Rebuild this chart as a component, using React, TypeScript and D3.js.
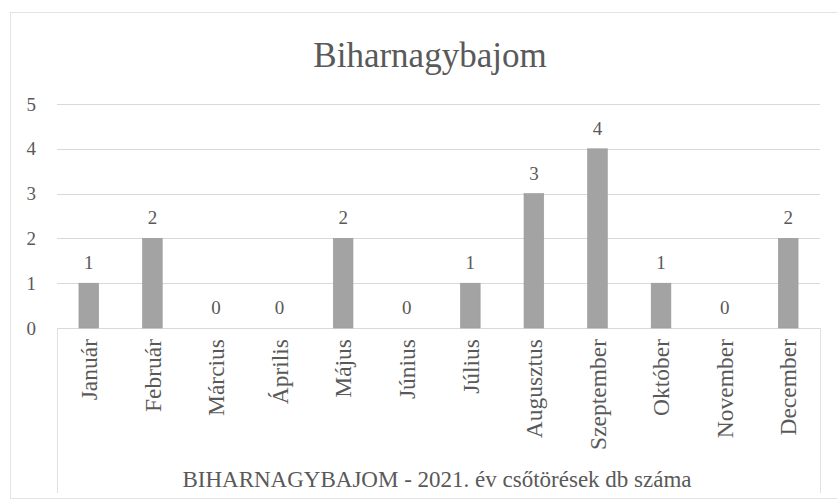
import React, { useEffect, useRef } from "react";
import * as d3 from "d3";

const months = [
  "Január", "Február", "Március", "Április", "Május", "Június",
  "Július", "Augusztus", "Szeptember", "Október", "November", "December",
];
const counts = [1, 2, 0, 0, 2, 0, 1, 3, 4, 1, 0, 2];
const yTicks = [0, 1, 2, 3, 4, 5];
const chartTitle = "Biharnagybajom";
const axisTitle = "BIHARNAGYBAJOM - 2021. év csőtörések db száma";

function App() {
  const ref = useRef<SVGSVGElement>(null);

  useEffect(() => {
    const svg = d3.select(ref.current);
    svg.selectAll("*").remove();

    const font = "'Liberation Serif', 'Times New Roman', serif";
    const textColor = "#595959";
    const left = 57, right = 820, top = 104, bottom = 328;

    const x = d3.scaleBand().domain(months).range([left, right]).paddingInner(0.69).paddingOuter(0.345);
    const y = d3.scaleLinear().domain([0, 5]).range([bottom, top]);

    // outer chart border
    svg.append("rect")
      .attr("x", 10.5).attr("y", 12.5)
      .attr("width", 840).attr("height", 486)
      .attr("fill", "none").attr("stroke", "#e3e3e3");

    // title
    svg.append("text")
      .attr("x", 430).attr("y", 67)
      .attr("text-anchor", "middle")
      .attr("font-family", font).attr("font-size", 35)
      .attr("fill", textColor)
      .text(chartTitle);

    // gridlines
    svg.append("g").selectAll("line")
      .data(yTicks)
      .enter().append("line")
      .attr("x1", left).attr("x2", right)
      .attr("y1", d => Math.round(y(d)) + 0.5).attr("y2", d => Math.round(y(d)) + 0.5)
      .attr("stroke", "#d9d9d9");

    // y tick labels
    svg.append("g").selectAll("text")
      .data(yTicks)
      .enter().append("text")
      .attr("x", 36).attr("y", d => y(d))
      .attr("dy", "0.35em")
      .attr("text-anchor", "end")
      .attr("font-family", font).attr("font-size", 19)
      .attr("fill", textColor)
      .text(d => d);

    // box under the category axis
    svg.append("path")
      .attr("d", `M${left + 0.5},${bottom} V493 M${right + 0.5},${bottom} V493`)
      .attr("fill", "none").attr("stroke", "#e0e0e0");

    // bars
    svg.append("g").selectAll("rect")
      .data(counts)
      .enter().append("rect")
      .attr("x", (d, i) => x(months[i])!)
      .attr("width", x.bandwidth())
      .attr("y", d => y(d))
      .attr("height", d => bottom - y(d))
      .attr("fill", "#a3a3a3")
      .attr("stroke", "#999999").attr("stroke-width", 0.6);

    // data labels
    svg.append("g").selectAll("text")
      .data(counts)
      .enter().append("text")
      .attr("x", (d, i) => x(months[i])! + x.bandwidth() / 2)
      .attr("y", d => y(d) - 14)
      .attr("text-anchor", "middle")
      .attr("font-family", font).attr("font-size", 19)
      .attr("fill", textColor)
      .text(d => d);

    // month labels
    svg.append("g").selectAll("text")
      .data(months)
      .enter().append("text")
      .attr("transform", d => `translate(${x(d)! + x.bandwidth() / 2},339) rotate(-90)`)
      .attr("dy", "0.35em")
      .attr("text-anchor", "end")
      .attr("font-family", font).attr("font-size", 23.5)
      .attr("fill", textColor)
      .text(d => d);

    // axis title
    svg.append("text")
      .attr("x", 437).attr("y", 487)
      .attr("text-anchor", "middle")
      .attr("font-family", font).attr("font-size", 23)
      .attr("fill", textColor)
      .text(axisTitle);
  }, []);

  return (
    <svg ref={ref} width={837} height={501} style={{ position: "absolute", left: 0, top: 0, background: "#fff" }}></svg>
  );
}

export default App;
